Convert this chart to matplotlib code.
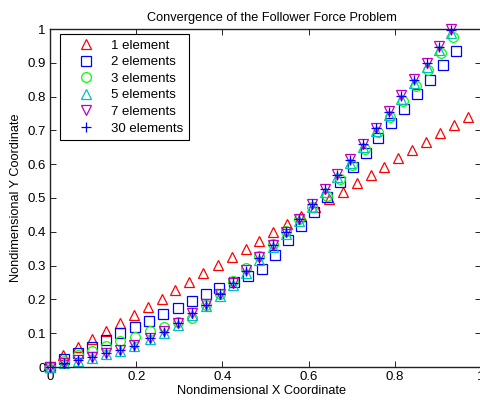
import matplotlib
matplotlib.use("Agg")
import matplotlib.pyplot as plt

plt.rcParams['font.family'] = ['Liberation Sans', 'DejaVu Sans']

# tip positions, 31 load steps per model
x_1el = [0.0, 0.0309, 0.0643, 0.0968, 0.1299, 0.1624, 0.1956, 0.2267, 0.2592, 0.2900,
         0.3232, 0.3557, 0.3891, 0.4216, 0.4541, 0.4856, 0.5181, 0.5506, 0.5824, 0.6149,
         0.6473, 0.6806, 0.7117, 0.7441, 0.7757, 0.8082, 0.8406, 0.8724, 0.9049, 0.9381, 0.9705]
y_1el = [0.0, 0.0355, 0.0583, 0.0820, 0.1065, 0.1293, 0.1538, 0.1784, 0.2012, 0.2278,
         0.2524, 0.2772, 0.3018, 0.3263, 0.3482, 0.3737, 0.3985, 0.4231, 0.4476, 0.4725,
         0.4956, 0.5186, 0.5435, 0.5680, 0.5926, 0.6175, 0.6420, 0.6666, 0.6914, 0.7160, 0.7388]

x_2el = [0.0, 0.0325, 0.0657, 0.0982, 0.1299, 0.1624, 0.1972, 0.2297, 0.2629, 0.2963,
         0.3288, 0.3608, 0.3928, 0.4258, 0.4587, 0.4912, 0.5220, 0.5515, 0.5817, 0.6114,
         0.6420, 0.6729, 0.7023, 0.7325, 0.7617, 0.7919, 0.8221, 0.8522, 0.8817, 0.9126, 0.9420]
y_2el = [0.0, 0.0228, 0.0405, 0.0601, 0.0799, 0.1015, 0.1183, 0.1370, 0.1568, 0.1754,
         0.1953, 0.2145, 0.2337, 0.2515, 0.2692, 0.2890, 0.3323, 0.3757, 0.4177, 0.4595,
         0.5039, 0.5482, 0.5917, 0.6340, 0.6775, 0.7210, 0.7633, 0.8071, 0.8491, 0.8935, 0.9355]

x_3el = [0.0, 0.0325, 0.0657, 0.0982, 0.1299, 0.1624, 0.1972, 0.2320, 0.2645, 0.2963,
         0.3302, 0.3619, 0.3938, 0.4240, 0.4555, 0.4856, 0.5167, 0.5476, 0.5777, 0.6079,
         0.6420, 0.6722, 0.7007, 0.7309, 0.7599, 0.7889, 0.8183, 0.8485, 0.8763, 0.9072, 0.9358]
y_3el = [0.0, 0.0186, 0.0355, 0.0482, 0.0621, 0.0769, 0.0902, 0.1065, 0.1175, 0.1340,
         0.1459, 0.1820, 0.2169, 0.2559, 0.2920, 0.3275, 0.3639, 0.4015, 0.4364, 0.4734,
         0.5059, 0.5562, 0.5985, 0.6450, 0.6953, 0.7405, 0.7870, 0.8314, 0.8787, 0.9281, 0.9754]

x_5el = [0.0, 0.0325, 0.0657, 0.0982, 0.1299, 0.1624, 0.1956, 0.2320, 0.2652, 0.2977,
         0.3288, 0.3619, 0.3933, 0.4246, 0.4559, 0.4856, 0.5167, 0.5476, 0.5784, 0.6090,
         0.6381, 0.6666, 0.6968, 0.7262, 0.7571, 0.7865, 0.8151, 0.8441, 0.8740, 0.9033, 0.9312]
y_5el = [0.0, 0.0110, 0.0190, 0.0270, 0.0385, 0.0480, 0.0610, 0.0820, 0.1010, 0.1255,
         0.1550, 0.1805, 0.2105, 0.2435, 0.2795, 0.3175, 0.3540, 0.3930, 0.4305, 0.4735,
         0.5180, 0.5615, 0.6050, 0.6495, 0.6975, 0.7455, 0.7935, 0.8395, 0.8890, 0.9385, 0.9875]

x_7el = [0.0, 0.0325, 0.0657, 0.0982, 0.1299, 0.1624, 0.1956, 0.2320, 0.2652, 0.2977,
         0.3288, 0.3619, 0.3933, 0.4246, 0.4559, 0.4856, 0.5167, 0.5476, 0.5784, 0.6090,
         0.6381, 0.6666, 0.6968, 0.7262, 0.7571, 0.7865, 0.8151, 0.8441, 0.8740, 0.9033, 0.9312]
y_7el = [0.0, 0.0130, 0.0210, 0.0290, 0.0410, 0.0510, 0.0645, 0.0860, 0.1055, 0.1305,
         0.1600, 0.1860, 0.2165, 0.2495, 0.2860, 0.3240, 0.3610, 0.4005, 0.4385, 0.4820,
         0.5270, 0.5710, 0.6150, 0.6600, 0.7080, 0.7560, 0.8045, 0.8510, 0.9005, 0.9500, 0.9990]

x_30el = [0.0, 0.0325, 0.0657, 0.0982, 0.1299, 0.1624, 0.1956, 0.2320, 0.2652, 0.2977,
          0.3288, 0.3619, 0.3933, 0.4246, 0.4559, 0.4856, 0.5167, 0.5476, 0.5784, 0.6090,
          0.6381, 0.6666, 0.6968, 0.7262, 0.7571, 0.7865, 0.8151, 0.8441, 0.8740, 0.9033, 0.9312]
y_30el = [0.0, 0.0127, 0.0207, 0.0287, 0.0405, 0.0503, 0.0636, 0.0849, 0.1044, 0.1293,
          0.1589, 0.1849, 0.2154, 0.2485, 0.2849, 0.3231, 0.3600, 0.3994, 0.4373, 0.4808,
          0.5257, 0.5695, 0.6133, 0.6583, 0.7062, 0.7544, 0.8027, 0.8491, 0.8985, 0.9479, 0.9970]

labels = ['1 element', '2 elements', '3 elements', '5 elements', '7 elements', '30 elements']

fig = plt.figure(figsize=(4.81, 4.04), dpi=100)
ax = fig.add_axes([50 / 481, 37 / 404, 431 / 481, 338 / 404])

mk = dict(linestyle='none', markersize=7, markerfacecolor='none', markeredgewidth=0.9, clip_on=False)
ax.plot(x_1el, y_1el, marker='^', color='r', label=labels[0], **mk)
ax.plot(x_2el, y_2el, marker='s', color='b', label=labels[1], **mk)
ax.plot(x_3el, y_3el, marker='o', color='#00ff00', label=labels[2], **mk)
ax.plot(x_5el, y_5el, marker='^', color='c', label=labels[3], **mk)
ax.plot(x_7el, y_7el, marker='v', color='m', label=labels[4], **mk)
ax.plot(x_30el, y_30el, marker='+', color='b', label=labels[5], **mk)

ax.set_xlim(0, 1)
ax.set_ylim(0, 1)
ax.set_xticks([0, 0.2, 0.4, 0.6, 0.8, 1])
ax.set_xticklabels(['0', '0.2', '0.4', '0.6', '0.8', '1'])
ax.set_yticks([i / 10 for i in range(11)])
ax.set_yticklabels(['0', '0.1', '0.2', '0.3', '0.4', '0.5', '0.6', '0.7', '0.8', '0.9', '1'])
ax.tick_params(direction='in', top=True, right=True, length=4, width=0.6, labelsize=9.5, pad=3)
for s in ax.spines.values():
    s.set_linewidth(1.0)
    s.set_color('#222222')

ax.set_title('Convergence of the Follower Force Problem', fontsize=9.2, pad=6, x=0.515)
ax.set_xlabel('Nondimensional X Coordinate', fontsize=9.2, labelpad=1, x=0.492)
ax.set_ylabel('Nondimensional Y Coordinate', fontsize=9.2, labelpad=4)

leg = ax.legend(loc='upper left', bbox_to_anchor=(0.023, 0.985), borderaxespad=0,
                fontsize=9.5, numpoints=1, fancybox=False, framealpha=1,
                edgecolor='black', labelspacing=0.33, handlelength=3.2,
                handletextpad=0.27, borderpad=0.4)
leg.get_frame().set_linewidth(0.8)

fig.savefig('out.png', dpi=100)
